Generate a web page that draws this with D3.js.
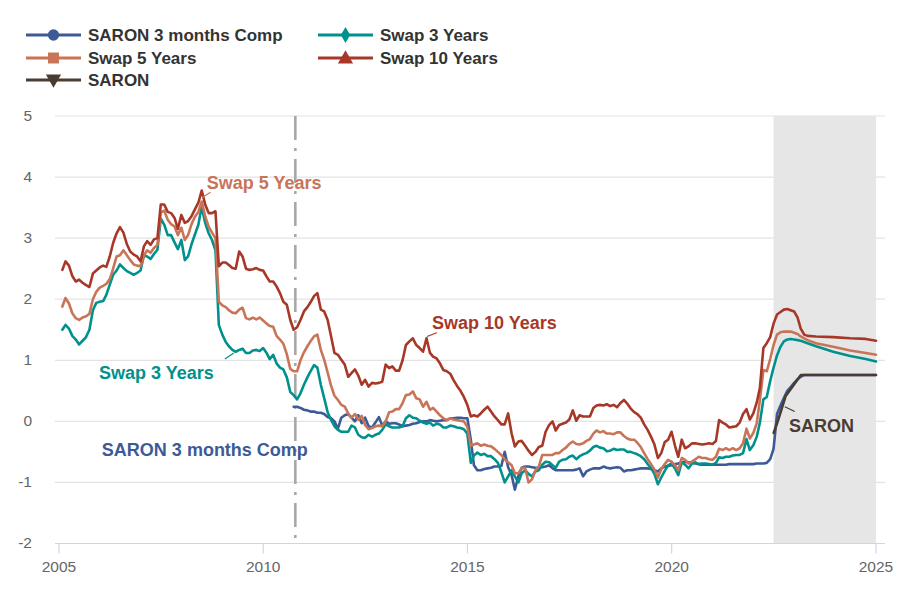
<!DOCTYPE html>
<html>
<head>
<meta charset="utf-8">
<script src="https://cdn.jsdelivr.net/npm/d3@7/dist/d3.min.js"></script>
<style>
  html, body { margin: 0; padding: 0; background: #ffffff; }
  svg { display: block; font-family: "Liberation Sans", Arial, Helvetica, sans-serif; }
</style>
</head>
<body>
<svg id="chart" width="900" height="600"></svg>
<script>
// ---------------- DATA ----------------
// Monthly observations (month-end), starting January 2005
const historyStart = [2005, 0];
const swap10 = [
  2.48, 2.62, 2.55, 2.38, 2.29, 2.32, 2.27, 2.23, 2.2, 2.42,
  2.47, 2.52, 2.55, 2.53, 2.7, 2.92, 3.08, 3.18, 3.09, 2.9,
  2.78, 2.73, 2.7, 2.62, 2.87, 2.95, 2.89, 2.98, 3.0, 3.55,
  3.55, 3.43, 3.41, 3.33, 3.15, 3.38, 3.25, 3.28, 3.36, 3.47,
  3.58, 3.78, 3.55, 3.41, 3.41, 3.44, 2.54, 2.6, 2.6, 2.56,
  2.51, 2.5, 2.78, 2.7, 2.5, 2.48, 2.49, 2.51, 2.48, 2.47,
  2.37, 2.29, 2.29, 2.21, 2.1, 1.96, 1.91, 1.66, 1.5, 1.54,
  1.66, 1.8, 1.87, 1.95, 2.05, 2.1, 1.83, 1.8, 1.66, 1.39,
  1.12, 1.09, 1.01, 0.93, 0.73, 0.79, 0.85, 0.75, 0.6, 0.68,
  0.57, 0.63, 0.62, 0.63, 0.65, 0.93, 0.87, 0.9, 0.83, 0.83,
  1.0, 1.25, 1.31, 1.36, 1.25, 1.2, 1.14, 1.36, 1.12, 1.06,
  1.03, 0.95, 0.84, 0.82, 0.78, 0.67, 0.58, 0.5, 0.4, 0.27,
  0.08, 0.1, 0.08, 0.13, 0.19, 0.24, 0.16, 0.08, 0.02, -0.05,
  -0.05, 0.13, -0.2, -0.41, -0.33, -0.32, -0.4, -0.48, -0.55, -0.5,
  -0.42, -0.4, -0.17, -0.06, 0.0, -0.15, -0.06, -0.04, -0.02, 0.03,
  0.18, 0.01, 0.1, 0.08, 0.08, 0.08, 0.22, 0.26, 0.27, 0.26,
  0.28, 0.25, 0.27, 0.23, 0.3, 0.35, 0.29, 0.21, 0.15, 0.12,
  0.06, -0.05, -0.14, -0.25, -0.38, -0.6, -0.52, -0.34, -0.3, -0.17,
  -0.4, -0.58, -0.3, -0.44, -0.41, -0.36, -0.36, -0.37, -0.38, -0.37,
  -0.36, -0.37, -0.32, 0.02, -0.02, -0.05, -0.1, -0.09, -0.08, -0.02,
  0.12, 0.2, 0.03, 0.13, 0.31, 0.55, 1.2, 1.28, 1.38, 1.6,
  1.75, 1.79, 1.83, 1.84, 1.82, 1.8, 1.7, 1.52, 1.42, 1.4
];
const swap5 = [
  1.88, 2.02, 1.93, 1.77, 1.69, 1.66, 1.7, 1.72, 1.76, 2.0,
  2.12, 2.19, 2.22, 2.25, 2.33, 2.5, 2.7, 2.72, 2.8, 2.72,
  2.64, 2.57, 2.55, 2.54, 2.72, 2.8, 2.76, 2.84, 2.89, 3.42,
  3.45, 3.3, 3.23, 3.19, 3.05, 3.17, 2.97, 3.05, 3.23, 3.35,
  3.43, 3.6, 3.36, 3.19, 3.09, 3.0, 1.96, 1.9, 1.87, 1.82,
  1.78, 1.77, 1.83, 1.86, 1.69, 1.67, 1.7, 1.67, 1.7, 1.65,
  1.6, 1.56, 1.55, 1.4, 1.34, 1.27, 1.1, 0.86, 0.82, 0.82,
  1.0, 1.13, 1.23, 1.31, 1.39, 1.42, 1.17, 1.01, 0.8, 0.58,
  0.42, 0.35, 0.27, 0.24, 0.13, 0.06, 0.12, 0.03, 0.09, -0.06,
  -0.13, -0.11, -0.08, -0.07, -0.08, 0.0, 0.15, 0.16, 0.2, 0.2,
  0.3, 0.43, 0.44, 0.49, 0.38, 0.36, 0.24, 0.32, 0.19, 0.22,
  0.16, 0.1, 0.05, 0.02, 0.05, 0.03, 0.02, 0.01, 0.0, -0.09,
  -0.4, -0.38, -0.36, -0.4, -0.38, -0.4, -0.41, -0.45, -0.5, -0.55,
  -0.62, -0.67, -0.72, -0.85, -0.85, -0.77, -0.76, -1.0, -0.95, -0.8,
  -0.74, -0.55, -0.55, -0.55, -0.55, -0.52, -0.52, -0.47, -0.43, -0.37,
  -0.33, -0.37, -0.38, -0.36, -0.32, -0.29, -0.2, -0.15, -0.18, -0.16,
  -0.2, -0.2, -0.21, -0.18, -0.18, -0.24, -0.28, -0.3, -0.3, -0.35,
  -0.42, -0.52, -0.62, -0.7, -0.79, -0.92, -0.78, -0.7, -0.63, -0.66,
  -0.72, -0.8, -0.6, -0.63, -0.69, -0.66, -0.62, -0.58, -0.6, -0.6,
  -0.62, -0.63, -0.58, -0.45, -0.47, -0.44, -0.47, -0.44, -0.47, -0.44,
  -0.36, -0.12, -0.28, -0.19, -0.03, 0.35, 0.84, 0.82, 1.02, 1.25,
  1.42, 1.46, 1.47, 1.47, 1.47, 1.45, 1.43, 1.39, 1.36, 1.33
];
const swap3 = [
  1.5, 1.58, 1.52, 1.4, 1.34, 1.26, 1.32, 1.38, 1.5, 1.82,
  1.94, 1.96, 1.97, 2.07, 2.24, 2.4, 2.47, 2.57, 2.51, 2.46,
  2.43, 2.4, 2.43, 2.47, 2.72, 2.7, 2.66, 2.74, 2.81, 3.32,
  3.22, 3.05, 3.05, 2.93, 2.82, 2.97, 2.64, 2.7, 2.9, 3.06,
  3.22, 3.52, 3.25, 3.08, 2.97, 2.8, 1.58, 1.42, 1.3, 1.23,
  1.17, 1.14, 1.17, 1.19, 1.12, 1.12, 1.16, 1.17, 1.15, 1.2,
  1.12, 1.02, 1.09, 0.95, 0.88, 0.85, 0.72, 0.48, 0.43, 0.36,
  0.46, 0.6, 0.72, 0.82, 0.92, 0.88, 0.6, 0.38, 0.15, 0.02,
  -0.08, -0.14, -0.17, -0.17, -0.17, -0.07, -0.1, -0.22, -0.26, -0.27,
  -0.22, -0.25, -0.22, -0.2, -0.14, -0.05, -0.08, -0.1, -0.1, -0.1,
  -0.08, 0.05, 0.1, 0.06, 0.05, 0.01, -0.02, -0.04, -0.02, -0.07,
  -0.04, -0.05, -0.1, -0.1, -0.07, -0.08, -0.1, -0.11, -0.13, -0.2,
  -0.68, -0.56, -0.51, -0.55, -0.53, -0.57, -0.57, -0.62, -0.68, -0.83,
  -1.0, -0.9, -0.8, -0.9, -1.0, -0.85, -0.8, -0.86, -0.9, -0.82,
  -0.8, -0.71, -0.66, -0.67, -0.72, -0.76, -0.66, -0.63, -0.62, -0.58,
  -0.56, -0.62, -0.57, -0.54, -0.52, -0.48, -0.42, -0.4, -0.43, -0.44,
  -0.49, -0.48, -0.45, -0.47, -0.46, -0.46, -0.5, -0.5, -0.52, -0.54,
  -0.57, -0.62, -0.7, -0.76, -0.86, -1.03, -0.92, -0.81, -0.72, -0.69,
  -0.77, -0.88, -0.67, -0.71, -0.77, -0.69, -0.67, -0.7, -0.69, -0.69,
  -0.7, -0.71, -0.68, -0.59, -0.6, -0.58, -0.58, -0.56, -0.55, -0.55,
  -0.52, -0.29, -0.47, -0.39, -0.25, -0.02, 0.36, 0.4, 0.66, 0.88,
  1.08, 1.22, 1.31, 1.34, 1.35, 1.34, 1.33, 1.32, 1.3, 1.28
];
// SARON 3 months compounded: monthly, starting September 2010
const saronCompStart = [2010, 8];
const saronComp = [
  0.24, 0.24,
  0.22, 0.19, 0.18, 0.16, 0.16, 0.14, 0.14, 0.12, 0.07, 0.05,
  0.0, -0.12, 0.06, 0.1, 0.12, 0.06, 0.0, 0.1, -0.03, 0.06,
  -0.08, -0.1, -0.02, 0.07, -0.07, 0.0, -0.04, -0.03, -0.03, -0.05,
  -0.08, -0.07, -0.06, -0.04, -0.03, -0.01, 0.0, 0.0, 0.02, 0.01,
  0.0, 0.01, 0.02, 0.02, 0.05, 0.05, 0.06, 0.06, 0.05, 0.05,
  -0.3, -0.72, -0.8, -0.8, -0.78, -0.77, -0.76, -0.74, -0.74, -0.73,
  -0.5, -0.75, -0.88, -1.12, -0.9, -0.76, -0.74, -0.74, -0.75, -0.76,
  -0.76, -0.75, -0.74, -0.72, -0.77, -0.8, -0.8, -0.8, -0.8, -0.8,
  -0.8, -0.79, -0.77, -0.9, -0.82, -0.79, -0.77, -0.77, -0.77, -0.74,
  -0.76, -0.77, -0.76, -0.75, -0.76, -0.82, -0.8, -0.8, -0.79, -0.78,
  -0.77, -0.77, -0.77, -0.78, -0.8, -0.82, -0.77, -0.74, -0.73, -0.72,
  -0.7, -0.69, -0.67, -0.66, -0.67, -0.68, -0.69, -0.7, -0.71, -0.71,
  -0.71, -0.71, -0.71, -0.71, -0.71, -0.71, -0.7, -0.7, -0.7, -0.7,
  -0.7, -0.7, -0.7, -0.7, -0.69, -0.69, -0.69, -0.68, -0.62, -0.45,
  0.12, 0.26, 0.38, 0.5, 0.56, 0.63, 0.69, 0.73, 0.76, 0.76
];
// Forecast horizon points
const forecastDates = ["2023-07-15", "2023-12-15", "2024-05-15", "2024-10-01", "2025-01-01"];
const swap10Fc = [1.39, 1.38, 1.36, 1.35, 1.32];
const swap5Fc = [1.28, 1.22, 1.16, 1.12, 1.09];
const swap3Fc = [1.23, 1.14, 1.07, 1.02, 0.98];
const saronCompFc = [0.76, 0.76, 0.76, 0.76, 0.76];
// SARON policy path
const saronDates = ["2022-07-01", "2022-08-10", "2022-10-15", "2023-03-01", "2025-01-01"];
const saron = [-0.19, 0.02, 0.41, 0.76, 0.76];

const seriesNames = ["SARON 3 months Comp", "Swap 3 Years", "Swap 5 Years", "Swap 10 Years", "SARON"];
const yTicks = [-2, -1, 0, 1, 2, 3, 4, 5];
const xTickYears = [2005, 2010, 2015, 2020, 2025];
const forecastBand = ["2022-06-30", "2025-01-01"];
const markerDate = "2010-10-15";

// ---------------- LAYOUT ----------------
const colors = {
  "SARON 3 months Comp": "#3c5a97",
  "Swap 3 Years": "#00918d",
  "Swap 5 Years": "#c97457",
  "Swap 10 Years": "#a73828",
  "SARON": "#4b3c31"
};
const symbols = {
  "SARON 3 months Comp": d3.symbolCircle,
  "Swap 3 Years": d3.symbolDiamond,
  "Swap 5 Years": d3.symbolSquare,
  "Swap 10 Years": d3.symbolTriangle,
  "SARON": d3.symbolTriangle
};
const plot = { left: 55, right: 885, top: 116, bottom: 543.5 };
const parse = d3.timeParse("%Y-%m-%d");

const x = d3.scaleTime()
  .domain([new Date(2005, 0, 1), new Date(2025, 0, 1)])
  .range([59, 876]);
const y = d3.scaleLinear().domain([-2, 5]).range([plot.bottom, plot.top]);
const fy = yr => { const y0 = Math.floor(yr); const s = new Date(y0, 0, 1), e = new Date(y0 + 1, 0, 1); return new Date(+s + (yr - y0) * (e - s)); };

function monthly(start, vals) {
  return vals.map((v, i) => ({ date: new Date(start[0], start[1] + i + 1, 0), value: v }));
}
function dated(dates, vals) {
  return vals.map((v, i) => ({ date: parse(dates[i]), value: v }));
}
const seriesData = {
  "SARON 3 months Comp": monthly(saronCompStart, saronComp).concat(dated(forecastDates, saronCompFc)),
  "Swap 3 Years": monthly(historyStart, swap3).concat(dated(forecastDates, swap3Fc)),
  "Swap 5 Years": monthly(historyStart, swap5).concat(dated(forecastDates, swap5Fc)),
  "Swap 10 Years": monthly(historyStart, swap10).concat(dated(forecastDates, swap10Fc)),
  "SARON": dated(saronDates, saron)
};

const svg = d3.select("#chart");

// grid lines
svg.append("g").selectAll("line").data(yTicks.filter(t => t > -2)).join("line")
  .attr("x1", plot.left).attr("x2", plot.right)
  .attr("y1", d => y(d)).attr("y2", d => y(d))
  .attr("stroke", "#e3e3e3").attr("stroke-width", 1.2);

// forecast band (above grid)
svg.append("rect")
  .attr("x", x(parse(forecastBand[0])))
  .attr("width", x(parse(forecastBand[1])) - x(parse(forecastBand[0])))
  .attr("y", plot.top).attr("height", plot.bottom - plot.top)
  .attr("fill", "#e6e6e6");

// y axis labels
svg.append("g").selectAll("text").data(yTicks).join("text")
  .attr("x", 32).attr("y", d => y(d)).attr("dy", "0.32em")
  .attr("text-anchor", "end").attr("font-size", 15.5).attr("fill", "#666666")
  .text(d => d);

// x axis
const xAxisG = svg.append("g").attr("transform", `translate(0,${plot.bottom})`);
xAxisG.append("line").attr("x1", plot.left).attr("x2", plot.right)
  .attr("stroke", "#ccd6eb").attr("stroke-width", 1.2);
const xTicks = xTickYears.map(yr => new Date(yr, 0, 1));
xAxisG.selectAll("line.tick").data(xTicks).join("line").attr("class", "tick")
  .attr("x1", d => x(d)).attr("x2", d => x(d)).attr("y1", 0).attr("y2", 10)
  .attr("stroke", "#ccd6eb").attr("stroke-width", 1.2);
xAxisG.selectAll("text").data(xTicks).join("text")
  .attr("x", d => x(d)).attr("y", 28).attr("text-anchor", "middle")
  .attr("font-size", 15.5).attr("fill", "#666666")
  .text(d => d3.timeFormat("%Y")(d));

// vertical dash-dot marker
svg.append("line")
  .attr("x1", x(parse(markerDate))).attr("x2", x(parse(markerDate)))
  .attr("y1", plot.top).attr("y2", plot.bottom)
  .attr("stroke", "#a8a8a8").attr("stroke-width", 2.6)
  .attr("stroke-dasharray", "24,8,3,8");

// lines
const line = d3.line().x(d => x(d.date)).y(d => y(d.value));
svg.append("g").selectAll("path").data(seriesNames).join("path")
  .attr("d", n => line(seriesData[n]))
  .attr("fill", "none")
  .attr("stroke", n => colors[n])
  .attr("stroke-width", 2.6)
  .attr("stroke-linejoin", "round")
  .attr("stroke-linecap", "round");

// annotations
const annotations = [
  { name: "Swap 5 Years", text: [2008.62, 3.81], lead: [[2008.50, 3.66], [2008.71, 3.75]] },
  { name: "Swap 10 Years", text: [2014.13, 1.52], lead: [[2014.01, 1.39], [2014.25, 1.45]] },
  { name: "Swap 3 Years", text: [2005.98, 0.70], lead: [[2009.06, 1.02], [2009.28, 1.12]] },
  { name: "SARON 3 months Comp", text: [2006.05, -0.57], lead: null },
  { name: "SARON", text: [2022.87, -0.17], lead: [[2022.77, 0.24], [2023.01, 0.16]] }
];
const ag = svg.append("g");
annotations.forEach(a => {
  if (a.lead) {
    ag.append("line")
      .attr("x1", x(fy(a.lead[0][0]))).attr("y1", y(a.lead[0][1]))
      .attr("x2", x(fy(a.lead[1][0]))).attr("y2", y(a.lead[1][1]))
      .attr("stroke", colors[a.name]).attr("stroke-width", 1.2);
  }
  ag.append("text")
    .attr("x", x(fy(a.text[0]))).attr("y", y(a.text[1]))
    .attr("font-size", 18).attr("font-weight", "bold")
    .attr("fill", colors[a.name])
    .text(a.name);
});

// legend
const legendPos = [[26, 35], [318, 35], [26, 58], [318, 58], [26, 80]];
const lg = svg.append("g");
seriesNames.forEach((n, i) => {
  const [lx, ly] = legendPos[i];
  const g = lg.append("g").attr("transform", `translate(${lx},${ly})`);
  g.append("line").attr("x1", 0).attr("x2", 55).attr("y1", 0).attr("y2", 0)
    .attr("stroke", colors[n]).attr("stroke-width", 3.2);
  const rot = n === "SARON" ? 180 : 0;
  const size = n === "Swap 3 Years" ? 75 : (n === "Swap 5 Years" ? 120 : 100);
  g.append("path").attr("d", d3.symbol().type(symbols[n]).size(size)())
    .attr("transform", `translate(27.5,${n === "Swap 10 Years" ? 1 : (n === "SARON" ? -1 : 0)}) rotate(${rot})`)
    .attr("fill", colors[n]);
  g.append("text").attr("x", 62).attr("y", 0).attr("dy", "0.35em")
    .attr("font-size", 17).attr("font-weight", "bold").attr("fill", "#333333")
    .text(n);
});
</script>
</body>
</html>
